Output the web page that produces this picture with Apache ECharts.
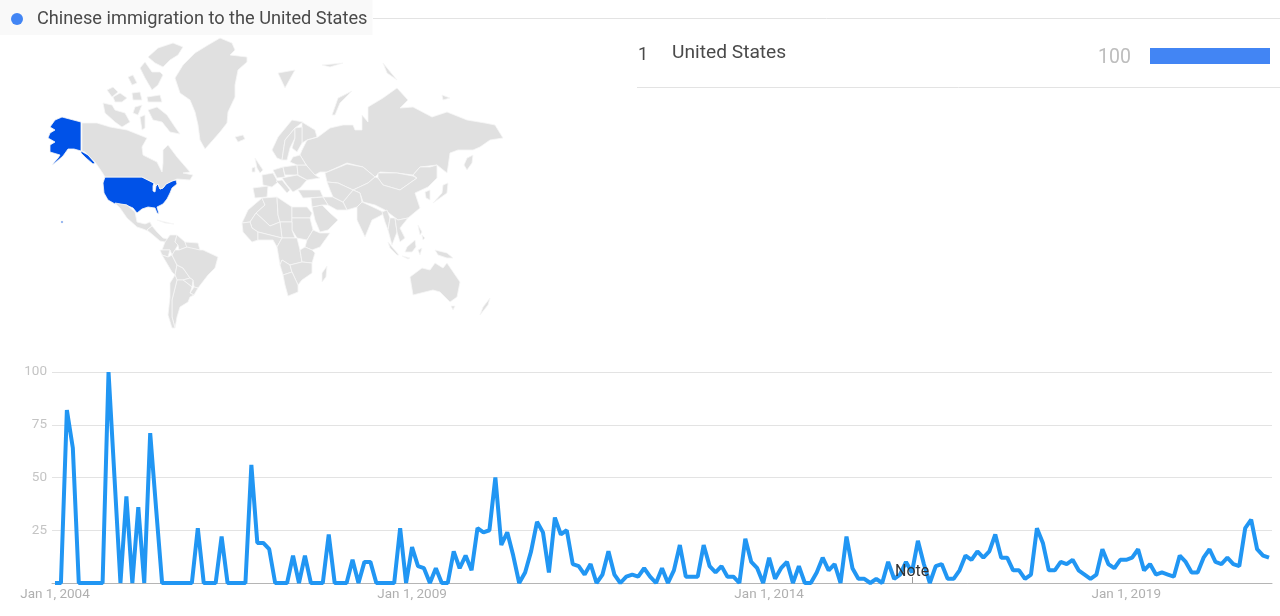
<!DOCTYPE html>
<html lang="en">

<head>
    <meta charset="UTF-8">
    <title>Chinese immigration to the United States</title>
    <script src="https://cdn.jsdelivr.net/npm/echarts@6/dist/echarts.min.js"></script>
</head>

<style>
    html,
    body {
        margin: 0;
        background: #fff;
    }

    #main {
        width: 1280px;
        height: 616px;
    }
</style>

<body>
    <div id="main"></div>
</body>

</html>

<script>
    const term = "Chinese immigration to the United States";

    // interest over time, one value per month from Jan 2004
    const interest = [
        0, 0, 82, 64, 0, 0, 0, 0, 0, 100, 50, 0,
        41, 0, 36, 0, 71, 35, 0, 0, 0, 0, 0, 0,
        26, 0, 0, 0, 22, 0, 0, 0, 0, 56, 19, 19,
        16, 0, 0, 0, 13, 0, 13, 0, 0, 0, 23, 0,
        0, 0, 11, 0, 10, 10, 0, 0, 0, 0, 26, 0,
        17, 8, 7, 0, 7, 0, 0, 15, 7, 13, 6, 26,
        24, 25, 50, 18, 24, 13, 0, 5, 15, 29, 24, 5,
        31, 23, 25, 9, 8, 4, 9, 0, 4, 15, 4, 0,
        3, 4, 3, 7, 3, 0, 7, 0, 6, 18, 3, 3,
        3, 18, 8, 5, 8, 3, 3, 0, 21, 10, 7, 0,
        12, 2, 7, 10, 0, 8, 0, 0, 5, 12, 6, 9,
        0, 22, 7, 2, 2, 0, 2, 0, 10, 2, 4, 10,
        5, 20, 9, 0, 8, 9, 2, 2, 6, 13, 11, 15,
        12, 15, 23, 12, 12, 6, 6, 2, 4, 26, 19, 6,
        6, 10, 9, 11, 6, 4, 2, 4, 16, 9, 7, 11,
        11, 12, 16, 6, 9, 4, 5, 4, 3, 13, 10, 5,
        5, 12, 16, 10, 9, 12, 9, 8, 26, 30, 16, 13,
        12
    ];
    const monthNames = ["Jan", "Feb", "Mar", "Apr", "May", "Jun", "Jul", "Aug", "Sep", "Oct", "Nov", "Dec"];
    const months = interest.map((v, i) => monthNames[i % 12] + " 1, " + (2004 + Math.floor(i / 12)));

    // interest by region
    const regionNames = ["United States"];
    const regionValues = [100];

    // map outlines, traced in the coordinate space of the map
    const outlines = {
        "United States": [
            "62,117 81,122 81,151 74,149 68,149 63,156 55,163 52,165 58,158 60,155 50,152 50,145 55,142 48,138 50,133 55,130 50,127 55,120",
            "81,151 88,155 95,163 93,164 86,158 81,153",
            "105,177 142,177 148,180 154,183 153,186 153,191 155,192 156,186 158,184 160,189 163,188 166,184 172,181 176,180 177,184 172,188 170,193 167,199 163,204 157,207 159,214 157,213 155,208 148,207 142,209 137,213 133,208 126,205 115,204 108,200 104,193 103,183",
            "61,221 63,221 63,223 61,223"
        ],
        "Canada": [
            "82,123 97,123 110,127 127,130 142,136 147,138 142,147 143,155 157,162 162,172 163,163 163,150 168,145 177,157 190,172 183,173 193,175 190,180 177,179 176,180 172,181 166,184 163,188 160,189 158,184 156,186 154,183 148,180 142,177 105,177 102,172 95,162 85,152 82,151",
            "148,57 158,48 173,43 183,47 178,55 170,60 163,67 155,63",
            "140,68 145,62 152,72 160,72 163,75 158,85 152,90 145,78",
            "128,77 133,75 137,83 132,85",
            "107,90 113,87 118,92 112,97",
            "113,97 120,93 127,98 122,102 115,102",
            "132,93 140,92 142,100 133,100",
            "147,97 160,95 162,102 148,102",
            "103,103 112,105 115,110 125,113 130,122 122,127 115,122 105,113",
            "135,107 142,105 138,115 133,113",
            "148,110 157,107 167,115 175,127 180,134 170,132 162,122 153,120",
            "140,117 145,115 145,128 142,130"
        ],
        "Greenland": ["175,78 183,65 195,53 208,45 220,38 232,43 235,50 230,55 247,57 247,62 238,70 235,85 235,97 228,112 227,123 220,132 213,140 205,149 200,140 198,125 195,112 190,100 180,93 178,87"],
        "Iceland": ["235,137 243,135 245,139 238,142"],
        "Mexico": ["115,203 127,205 135,212 137,222 145,224 150,222 152,226 147,230 153,233 143,229 137,227 127,218 120,208"],
        "Central America": ["147,230 152,226 157,232 163,238 172,240 170,243 160,241 153,235"],
        "Cuba": ["157,220 165,222 174,224 165,223"],
        "Colombia": ["170,235 177,235 175,242 178,245 175,250 172,255 170,250 162,250 165,242"],
        "Venezuela": ["177,235 185,242 187,247 179,250 178,245 175,242"],
        "Guianas": ["185,242 198,243 200,250 187,248 187,247"],
        "Ecuador": ["160,250 170,250 168,257 162,255"],
        "Peru": ["162,255 168,257 172,255 177,265 175,275 172,272"],
        "Bolivia": ["177,265 183,268 190,278 183,280 177,280 175,275"],
        "Brazil": ["175,250 179,250 187,247 200,250 203,250 218,257 215,268 208,275 198,288 194,287 193,280 190,278 183,268 177,265 172,255"],
        "Paraguay": ["183,280 190,278 193,280 192,287 187,283"],
        "Uruguay": ["194,287 198,288 194,295 190,293"],
        "Argentina": ["177,280 183,280 187,283 192,287 190,293 194,295 190,297 188,302 180,307 177,317 175,328 172,317 172,300"],
        "Chile": ["175,275 177,280 172,300 172,317 175,328 172,328 168,315 170,297 170,283"],
        "Morocco": ["242,223 248,210 262,198 265,205 256,213 250,222"],
        "Algeria": ["262,198 277,197 278,215 280,222 270,226 256,213 265,205"],
        "Libya": ["277,197 292,207 292,222 280,222 278,215"],
        "Egypt": ["292,207 307,207 312,213 310,218 292,218"],
        "Sudan": ["292,218 310,218 313,230 307,240 297,238 292,230"],
        "Chad": ["280,222 292,222 292,230 295,238 282,238"],
        "Mali": ["250,222 256,213 270,226 280,222 282,238 270,235 258,232 252,228"],
        "Senegal": ["242,223 250,222 252,228 258,232 258,240 252,242 243,232"],
        "Nigeria": ["258,232 270,235 282,238 277,247 273,240 263,240 258,240"],
        "Ethiopia": ["307,240 313,230 320,233 330,233 320,247 312,250 305,247"],
        "Congo": ["277,247 282,238 295,238 297,238 300,250 302,262 290,265 282,260 280,265"],
        "Tanzania": ["300,250 305,247 312,250 315,253 312,263 302,262"],
        "Angola": ["280,265 282,260 290,265 292,272 283,275"],
        "Mozambique": ["290,265 302,262 312,263 312,273 302,280 298,285 292,272"],
        "South Africa": ["283,275 292,272 298,285 298,292 288,296 285,285"],
        "Madagascar": ["322,273 327,266 326,277 322,282"],
        "Russia": [
            "302,150 307,140 318,137 330,128 343,125 353,125 355,130 362,130 362,115 368,122 368,107 383,98 397,88 408,100 400,108 413,107 432,117 447,112 467,120 485,123 495,125 503,138 490,140 480,147 473,150 458,150 450,153 448,167 447,173 437,165 420,167 413,175 397,173 380,172 375,177 363,167 347,163 327,172 320,172 315,175 310,170 305,163 300,155",
            "302,122 315,130 317,137 307,140 302,143 302,127",
            "332,115 338,98 352,91 340,103 335,115",
            "383,63 397,80 387,73",
            "442,95 450,98 443,100",
            "467,158 473,155 472,163 467,170 464,165"
        ],
        "Svalbard": ["278,73 295,70 285,88", "322,65 343,63 330,67"],
        "Kazakhstan": ["325,173 347,164 363,167 375,177 368,183 353,190 338,183 327,182"],
        "Mongolia": ["378,173 397,173 413,176 417,178 400,190 383,185 378,178"],
        "China": ["375,177 378,178 383,185 400,190 417,178 413,175 420,167 430,167 437,165 437,178 428,187 415,193 420,208 408,218 398,220 385,210 375,205 363,202 360,193 353,190 368,183"],
        "Korea": ["425,192 430,190 430,200 426,198"],
        "Japan": ["443,185 448,183 447,193 433,203 432,202 442,193"],
        "India": ["357,207 362,202 375,208 385,213 378,217 372,220 365,237 357,220"],
        "Pakistan": ["353,190 343,202 347,210 357,207 362,202 360,193"],
        "Iran": ["323,197 333,197 343,202 347,210 337,210 328,205"],
        "Uzbekistan": ["327,182 338,183 353,190 343,202 333,197 330,190"],
        "Turkey": ["298,190 320,190 323,197 303,198"],
        "Saudi Arabia": ["312,207 322,205 330,213 338,220 328,230 320,232 315,220"],
        "Iraq": ["311,198 323,197 328,205 322,205 312,207"],
        "Spain": ["253,188 268,186 267,197 255,198"],
        "France": ["262,175 273,173 278,182 272,187 263,185"],
        "United Kingdom": ["255,158 263,170 260,173 257,168"],
        "Ireland": ["252,168 255,167 255,172 252,172"],
        "Germany": ["273,170 283,167 285,177 277,178"],
        "Poland": ["283,167 297,165 298,175 285,175"],
        "Italy": ["276,181 282,180 290,190 287,193 280,185"],
        "Balkans": ["282,178 297,175 307,180 300,188 293,192 287,185"],
        "Ukraine": ["297,165 306,165 315,175 320,178 307,180 298,175"],
        "Belarus": ["293,157 300,155 306,165 297,165 290,162"],
        "Norway": ["272,150 278,137 292,120 303,122 295,128 285,140 282,160 277,158"],
        "Sweden": ["285,140 295,128 295,138 290,148 287,160 282,160"],
        "Finland": ["295,128 302,127 302,143 297,152 292,148 295,138"],
        "Myanmar": ["382,212 387,210 390,218 388,230 385,222"],
        "Thailand": ["390,218 395,218 397,232 392,245 388,230"],
        "Vietnam": ["395,218 398,220 408,218 400,228 405,238 400,242 397,232"],
        "Indonesia": [
            "388,242 393,248 399,255 397,255 390,248",
            "407,247 415,240 416,247 412,252 405,252",
            "402,256 410,258 408,259",
            "418,250 422,248 420,255"
        ],
        "Philippines": ["418,225 422,232 420,235", "422,235 425,238 423,240"],
        "Papua New Guinea": ["435,250 447,253 453,258 447,258 438,255"],
        "Australia": ["410,277 422,268 430,270 435,263 443,268 447,263 460,282 457,297 450,302 440,292 433,290 413,295", "451,306 455,306 453,310"],
        "New Zealand": ["490,298 488,305 480,315 483,307"]
    };

    let features = [];
    let minX = Infinity, minY = Infinity, maxX = -Infinity, maxY = -Infinity;
    for (let name in outlines) {
        let polys = outlines[name].map(function (s) {
            let ring = s.split(" ").map(p => p.split(",").map(Number));
            ring.forEach(function (p) {
                minX = Math.min(minX, p[0]);
                maxX = Math.max(maxX, p[0]);
                minY = Math.min(minY, p[1]);
                maxY = Math.max(maxY, p[1]);
            });
            ring.push(ring[0]);
            return [ring];
        });
        features.push({
            type: "Feature",
            properties: { name: name },
            geometry: { type: "MultiPolygon", coordinates: polys }
        });
    }
    echarts.registerMap("trends", { type: "FeatureCollection", features: features });

    const font = "Roboto";
    const myChart = echarts.init(document.getElementById("main"));

    option = {
        animation: false,
        textStyle: { fontFamily: font },
        legend: {
            left: 0,
            top: 0,
            padding: [10, 5, 7, 11],
            backgroundColor: "#f9f9f9",
            icon: "circle",
            itemWidth: 12,
            itemHeight: 12,
            selectedMode: false,
            textStyle: { fontSize: 18.2, fontFamily: font, color: "#4a4a4a", padding: [0, 0, 0, 9] },
            data: [{ name: term, itemStyle: { color: "#4285f4" } }]
        },
        visualMap: {
            show: false,
            type: "piecewise",
            seriesIndex: 0,
            pieces: [{ value: 100, color: "#0052e8" }],
            outOfRange: { color: "#e0e0e0" }
        },
        grid: [
            { left: 52, right: 8, top: 372, bottom: 33 },
            { left: 1150, top: 48, width: 120, height: 16 }
        ],
        xAxis: [{
            type: "category",
            gridIndex: 0,
            data: months,
            boundaryGap: true,
            axisTick: { show: false },
            axisLine: { lineStyle: { color: "#b5b5b5", width: 1 } },
            axisLabel: {
                interval: (i) => i % 60 === 0,
                margin: 5,
                fontSize: 13.5,
                fontFamily: font,
                color: "#b0b0b0",
                hideOverlap: false
            }
        }, {
            type: "value",
            gridIndex: 1,
            min: 0,
            max: 100,
            show: false
        }],
        yAxis: [{
            type: "value",
            gridIndex: 0,
            min: 0,
            max: 100,
            interval: 25,
            axisLine: { show: false },
            axisTick: { show: false },
            splitLine: { lineStyle: { color: "#e3e3e3", width: 1 } },
            axisLabel: {
                margin: 5,
                fontSize: 13.5,
                fontFamily: font,
                color: "#c4c4c4",
                formatter: (v) => (v === 0 ? "" : v)
            }
        }, {
            type: "category",
            gridIndex: 1,
            data: regionNames,
            show: false
        }],
        series: [{
            type: "map",
            map: "trends",
            silent: true,
            showLegendSymbol: false,
            projection: { project: (p) => p, unproject: (p) => p },
            left: minX,
            top: minY,
            width: maxX - minX,
            height: maxY - minY,
            itemStyle: { areaColor: "#e0e0e0", borderColor: "#f6f6f6", borderWidth: 0.8 },
            label: { show: false },
            data: regionNames.map((n, i) => ({ name: n, value: regionValues[i] }))
        }, {
            type: "bar",
            xAxisIndex: 1,
            yAxisIndex: 1,
            silent: true,
            data: regionValues,
            barWidth: "100%",
            itemStyle: { color: "#4285f4" },
            label: {
                show: true,
                position: "left",
                distance: 19,
                offset: [0, 2],
                fontSize: 19.5,
                fontFamily: font,
                color: "#bdbdbd"
            }
        }, {
            name: term,
            type: "line",
            xAxisIndex: 0,
            yAxisIndex: 0,
            data: interest,
            showSymbol: false,
            silent: true,
            lineStyle: { color: "#2196f3", width: 4, join: "bevel" },
            itemStyle: { color: "#2196f3" }
        }],
        graphic: [
            { type: "line", z: 1, shape: { x1: 373, y1: 18.5, x2: 1280, y2: 18.5 }, style: { stroke: "#e3e3e3", lineWidth: 1 } },
            { type: "line", z: 1, shape: { x1: 637, y1: 87.5, x2: 1280, y2: 87.5 }, style: { stroke: "#e3e3e3", lineWidth: 1 } },
            { type: "text", z: 10, x: 638, y: 46, style: { text: "1", fontSize: 18, fontFamily: font, fill: "#4a4a4a" } },
            { type: "text", z: 10, x: 672, y: 44, style: { text: regionNames[0], fontSize: 19.2, fontFamily: font, fill: "#4a4a4a" } },
            { type: "line", z: 10, shape: { x1: 912.5, y1: 577, x2: 912.5, y2: 583 }, style: { stroke: "#9a9a9a", lineWidth: 1 } },
            { type: "text", z: 10, x: 895, y: 564, style: { text: "Note", fontSize: 16, fontFamily: font, fill: "#333" } }
        ]
    };

    myChart.setOption(option);
</script>
